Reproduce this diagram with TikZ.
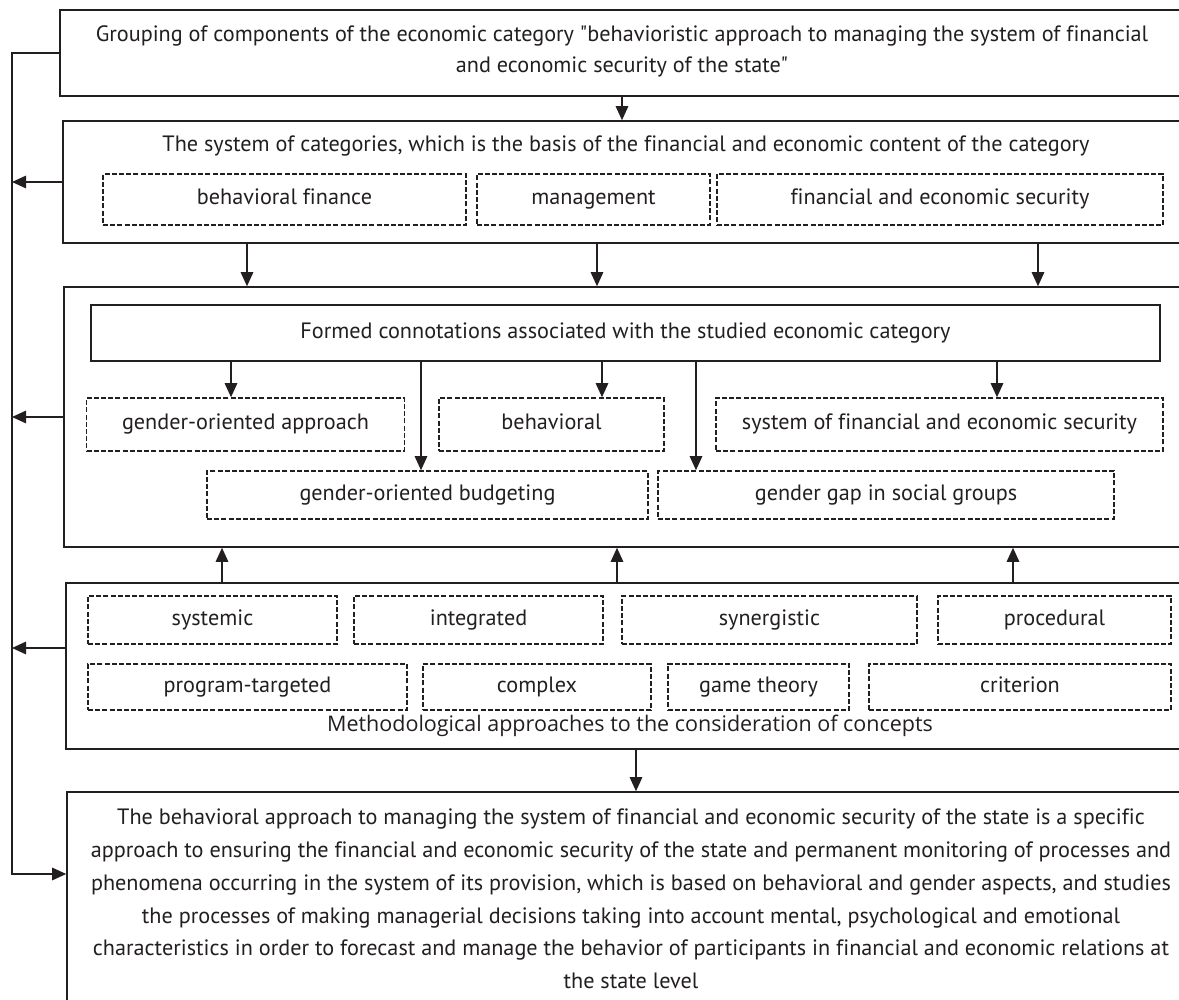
\documentclass[tikz,border=0pt]{standalone}
\usepackage{fontspec}
\setmainfont{PT Sans}[Ligatures={TeXOff,CommonOff}]
\newfontfamily\methfont{Open Sans}[Ligatures={TeXOff,CommonOff}]
\usetikzlibrary{arrows.meta}
\definecolor{ink}{HTML}{231F20}
\newcommand\myfs{\fontsize{22.2}{32.8}\selectfont}
\newcommand\myfsb{\fontsize{22.2}{31}\selectfont}
\begin{document}
\begin{tikzpicture}[x=1pt,y=-1pt,
  box/.style={draw=ink, line width=1.6pt, rectangle, inner sep=0pt},
  dbox/.style={draw=ink, line width=1.6pt, dash pattern=on 5pt off 2.2pt, rectangle, inner sep=0pt, font=\myfs, text=ink, text height=16pt, text depth=5pt},
  txt/.style={text=ink, font=\myfs, inner sep=0pt, align=center},
  arr/.style={draw=ink, line width=1.4pt, -{Triangle[length=14pt,width=12.5pt]}}]
\useasboundingbox (0,0) rectangle (1179,1000);
\fill[white] (0,0) rectangle (1179,1000);
\clip (0,0) rectangle (1179,1000);

% box 1
\node[box, minimum width=1124pt, minimum height=86pt] (box1) at (622,53) {};
\node[txt, font=\myfsb] (t1) at (622,51.5) {Grouping of components of the economic category "behavioristic approach to managing the system of financial\\and economic security of the state"};

% box 2
\node[box, minimum width=1120pt, minimum height=122pt] (box2) at (623,182) {};
\node[txt, text height=16pt, text depth=5pt] (t2) at (626,146) {The system of categories, which is the basis of the financial and economic content of the category};
\node[dbox, minimum width=363pt, minimum height=51pt] (bf) at (284.5,199.5) {behavioral finance};
\node[dbox, minimum width=233pt, minimum height=51pt] (mg) at (593.5,199.5) {management};
\node[dbox, minimum width=446pt, minimum height=51pt] (fes) at (940,199.5) {financial and economic security};

% box 3
\node[box, minimum width=1120pt, minimum height=260pt] (box3) at (624,417) {};
\node[box, minimum width=1069pt, minimum height=56pt, font=\myfs, text=ink, text height=16pt, text depth=5pt] (formed) at (625.5,333) {Formed connotations associated with the studied economic category};
\node[dbox, minimum width=318pt, minimum height=53pt] (goa) at (245.5,424.5) {gender-oriented approach};
\node[dbox, minimum width=225pt, minimum height=53pt] (beh) at (551.5,424.5) {behavioral};
\node[dbox, minimum width=447pt, minimum height=53pt] (sfes) at (939.5,424.5) {system of financial and economic security};
\node[dbox, minimum width=441pt, minimum height=48pt] (gob) at (427.5,495) {gender-oriented budgeting};
\node[dbox, minimum width=456pt, minimum height=48pt] (ggap) at (886,495) {gender gap in social groups};

% box 4
\node[box, minimum width=1120pt, minimum height=166pt] (box4) at (626,666) {};
\node[dbox, minimum width=249pt, minimum height=48pt] (sys) at (212.5,620) {systemic};
\node[dbox, minimum width=249pt, minimum height=48pt] (int) at (478.5,620) {integrated};
\node[dbox, minimum width=295pt, minimum height=48pt] (syn) at (769.5,620) {synergistic};
\node[dbox, minimum width=233pt, minimum height=48pt] (pro) at (1054.5,620) {procedural};
\node[dbox, minimum width=319pt, minimum height=46pt] (prt) at (247.5,687) {program-targeted};
\node[dbox, minimum width=228pt, minimum height=46pt] (cpx) at (537,687) {complex};
\node[dbox, minimum width=181pt, minimum height=46pt] (gth) at (758.5,687) {game theory};
\node[dbox, minimum width=302pt, minimum height=46pt] (cri) at (1020,687) {criterion};
\node[txt, font=\methfont\fontsize{21.5}{24}\selectfont] (t4) at (630,726) {Methodological approaches to the consideration of concepts};

% box 5
\node[box, minimum width=1128pt, minimum height=218pt] (box5) at (631,901) {};
\node[txt] (t5) at (631,899) {The behavioral approach to managing the system of financial and economic security of the state is a specific\\approach to ensuring the financial and economic security of the state and permanent monitoring of processes and\\phenomena occurring in the system of its provision, which is based on behavioral and gender aspects, and studies\\the processes of making managerial decisions taking into account mental, psychological and emotional\\characteristics in order to forecast and manage the behavior of participants in financial and economic relations at\\the state level};

% connector x positions
\coordinate (a1) at (247,0);
\coordinate (a2) at (597,0);
\coordinate (a3) at (1038,0);
\coordinate (f1) at (231,0);
\coordinate (f2) at (421,0);
\coordinate (f3) at (602,0);
\coordinate (f4) at (696,0);
\coordinate (f5) at (997,0);
\coordinate (u1) at (222,0);
\coordinate (u2) at (617,0);
\coordinate (u3) at (1013,0);
\coordinate (d1) at (636,0);
\coordinate (turn) at (12,874);
\coordinate (y4) at (0,648);

\draw[arr] (box1.south) -- (box1.south |- box2.north);
\draw[arr] (box2.south -| a1) -- (box3.north -| a1);
\draw[arr] (box2.south -| a2) -- (box3.north -| a2);
\draw[arr] (box2.south -| a3) -- (box3.north -| a3);

\draw[arr] (formed.south -| f1) -- (goa.north -| f1);
\draw[arr] (formed.south -| f2) -- (gob.north -| f2);
\draw[arr] (formed.south -| f3) -- (beh.north -| f3);
\draw[arr] (formed.south -| f4) -- (ggap.north -| f4);
\draw[arr] (formed.south -| f5) -- (sfes.north -| f5);

\draw[arr] (box4.north -| u1) -- (box3.south -| u1);
\draw[arr] (box4.north -| u2) -- (box3.south -| u2);
\draw[arr] (box4.north -| u3) -- (box3.south -| u3);
\draw[arr] (box4.south -| d1) -- (box5.north -| d1);

\draw[arr] (box1.west) -| (turn) -- (turn -| box5.west);
\draw[arr] (box2.west) -- (box2.west -| turn);
\draw[arr] (box3.west) -- (box3.west -| turn);
\draw[arr] (box4.west |- y4) -- (turn |- y4);
\end{tikzpicture}
\end{document}
